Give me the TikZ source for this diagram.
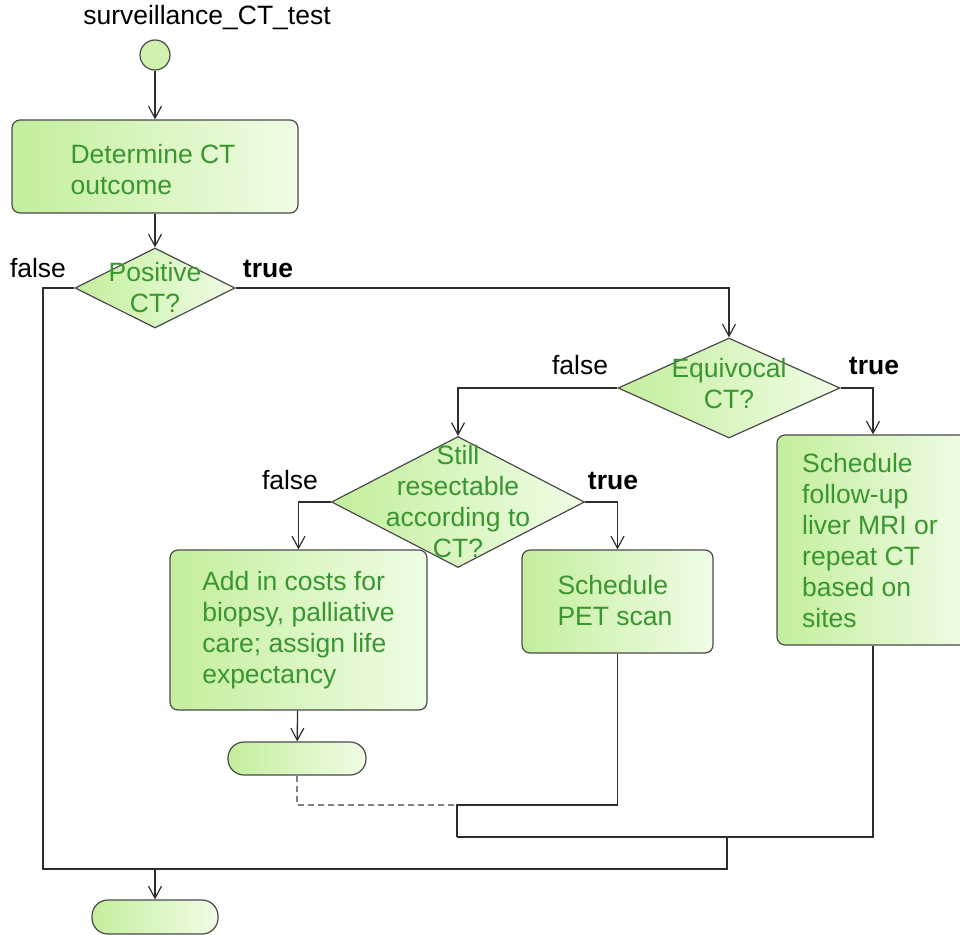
\documentclass[tikz,border=0pt]{standalone}
\usepackage{fontspec}
\setmainfont{Liberation Sans}
\usetikzlibrary{arrows.meta,shapes.geometric}

\definecolor{fillL}{HTML}{C4EE9C}
\definecolor{fillR}{HTML}{F0FDE6}
\definecolor{txtgreen}{HTML}{3A9630}
\definecolor{edge}{HTML}{4A4A4A}
\definecolor{wire}{HTML}{2E2E2E}

\tikzset{
  x=1pt, y=-1pt,
  every node/.style={font=\fontsize{26.5}{31}\selectfont},
  actbox/.style={draw=edge, line width=1.2pt, rounded corners=8pt,
    left color=fillL, right color=fillR, inner sep=0pt},
  actext/.style={text=txtgreen, align=left, inner sep=0pt},
  decbox/.style={draw=edge, line width=1.2pt, diamond, inner sep=0pt,
    left color=fillL, right color=fillR},
  dectext/.style={text=txtgreen, align=center, inner sep=0pt},
  termbox/.style={draw=edge, line width=1.2pt, rounded corners=16pt,
    left color=fillL, right color=fillR, inner sep=0pt,
    minimum width=128pt, minimum height=33pt},
  startdot/.style={draw=edge, line width=1.2pt, circle, fill=fillL!80!white,
    minimum size=30pt, inner sep=0pt},
  branch/.style={text=black, inner sep=0pt},
  wireline/.style={draw=wire, line width=1.3pt},
  dashwire/.style={draw=gray, line width=1.1pt, dash pattern=on 6pt off 4pt},
  arr/.style={wireline, -{Straight Barb[length=12pt,width=13pt,line width=1.2pt]}},
}

\begin{document}
\begin{tikzpicture}
\useasboundingbox (0,0) rectangle (960,934);
\clip (0,0) rectangle (960,934);

% title and start
\node[branch] (title) at (207,18) {surveillance\_CT\_test};
\node[startdot] (start) at (155,55) {};

% first action
\node[actbox, minimum width=286pt, minimum height=93pt] (det) at (155,166.5) {};
\node[actext] (dett) at (153,170) {Determine CT\\outcome};

% decision: positive CT
\node[decbox, minimum width=160pt, minimum height=80pt] (pos) at (155,288) {};
\node[dectext] (post) at (155,288) {Positive\\CT?};
\node[branch, anchor=base] (posF) at (38,277) {false};
\node[branch, anchor=base] (posT) at (268,277) {\bfseries true};

% decision: equivocal CT
\node[decbox, minimum width=222pt, minimum height=100pt] (equ) at (729,388) {};
\node[dectext] (equt) at (729,384) {Equivocal\\CT?};
\node[branch, anchor=base] (equF) at (580,374) {false};
\node[branch, anchor=base] (equT) at (874,374) {\bfseries true};

% decision: still resectable
\node[decbox, minimum width=253pt, minimum height=131pt] (res) at (458,502) {};
\node[dectext] (rest) at (458,502) {Still\\resectable\\according to\\CT?};
\node[branch, anchor=base] (resF) at (290,489) {false};
\node[branch, anchor=base] (resT) at (613,489) {\bfseries true};

% actions
\node[actbox, minimum width=257pt, minimum height=160pt] (pal) at (298.5,630) {};
\node[actext] (palt) at (298.5,630) {Add in costs for\\biopsy, palliative\\care; assign life\\expectancy};

\node[actbox, minimum width=191pt, minimum height=103pt] (pet) at (617.5,601.5) {};
\node[actext] (pett) at (615,601) {Schedule\\PET scan};

\node[actbox, minimum width=192pt, minimum height=210pt] (mri) at (873,540) {};
\node[actext, anchor=west] (mrit) at (802,541) {Schedule\\follow-up\\liver MRI or\\repeat CT\\based on\\sites};

% terminals
\node[termbox, minimum width=138pt] (endA) at (297,758.5) {};
\node[termbox, minimum width=126pt, minimum height=34pt] (endB) at (155,917) {};

% junction points
\coordinate (cLeft) at (43,869);
\coordinate (cBot) at (727,869);
\coordinate (cMid) at (727,837);
\coordinate (cOut) at (155,869);
\coordinate (jA) at (457,805);
\coordinate (jB) at (457,837);

% connectors
\draw[arr] (start) -- (det);
\draw[arr] (det) -- (pos);
\draw[arr] (pos.east) -| (equ.north);
\draw[wireline] (pos.west) -| (cLeft) -- (cBot) -- (cMid);
\draw[arr] (cOut) -- (endB);
\draw[arr] (equ.east) -| (mri.north);
\draw[arr] (equ.west) -| (res.north);
\draw[arr] (res.west) -| (pal.north);
\draw[arr] (res.east) -| (pet.north);
\draw[arr] (pal) -- (endA);
\draw[dashwire] (endA.south) |- (jA);
\draw[wireline] (pet.south) |- (jA) -- (jB);
\draw[wireline] (mri.south) |- (jB);
\end{tikzpicture}
\end{document}
